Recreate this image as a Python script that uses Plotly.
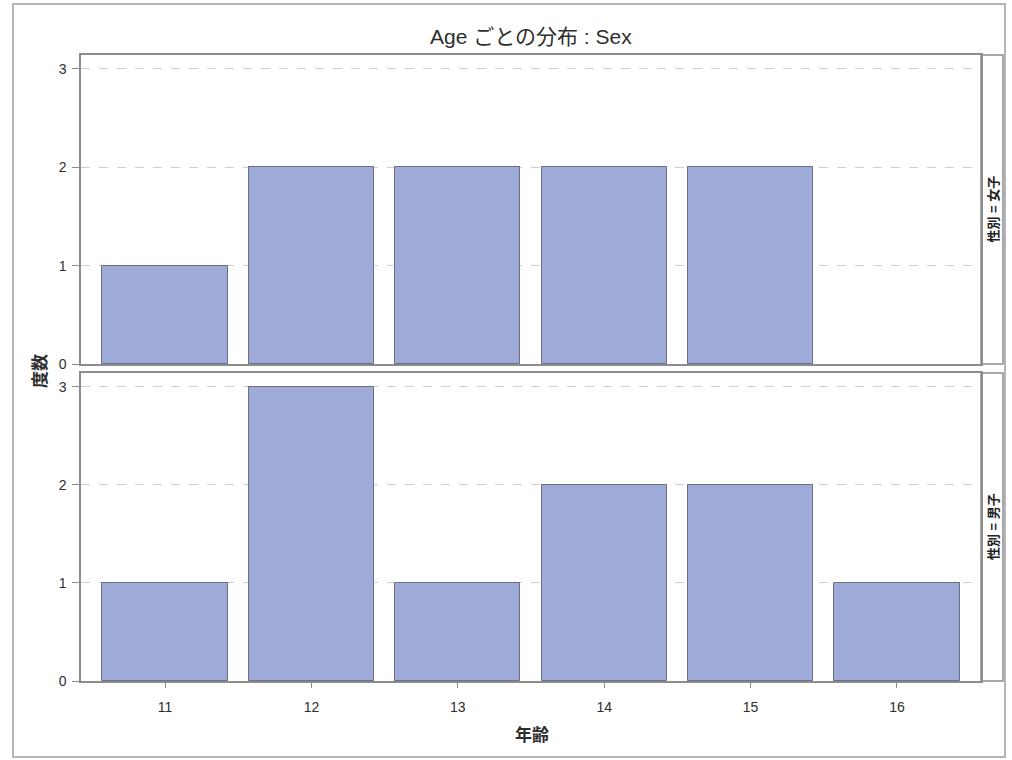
import plotly.graph_objects as go

ages = [11, 12, 13, 14, 15, 16]
female_counts = [1, 2, 2, 2, 2, None]
male_counts = [1, 3, 1, 2, 2, 1]
y_ticks = [0, 1, 2, 3]
title_text = "Age ごとの分布 : Sex"
strip_female = "性別 = 女子"
strip_male = "性別 = 男子"
x_title = "年齢"
y_title = "度数"

FONT = "Liberation Sans, Arial, Noto Sans CJK JP, sans-serif"
fill = "#9eabd9"
edge = "#6b6f86"
frame = "#8c8c8c"
txt = "#2e2e2e"

fig = go.Figure()
fig.add_trace(go.Bar(x=ages, y=female_counts, width=0.855, marker=dict(color=fill, line=dict(color=edge, width=1)),
                     xaxis="x2", yaxis="y2", showlegend=False))
fig.add_trace(go.Bar(x=ages, y=male_counts, width=0.855, marker=dict(color=fill, line=dict(color=edge, width=1)),
                     xaxis="x", yaxis="y", showlegend=False))

L, R, T, B = 81, 31, 55, 79
W, H = 1012, 760
ph = H - T - B
pw = W - L - R
bot_dom = [0, 308 / ph]
top_dom = [1 - 309 / ph, 1]

xr = [10.426, 16.574]
yr = [0, 3.142]

common_y = dict(range=yr, tickvals=y_ticks, showgrid=True, gridcolor="#cfcfcf", griddash="dash", gridwidth=1,
                zeroline=False, showline=True, mirror=True, linecolor=frame, linewidth=1.5,
                ticks="outside", ticklen=7, tickcolor=frame, ticklabelstandoff=3,
                tickfont=dict(family=FONT, size=14, color=txt), fixedrange=True)

fig.update_layout(
    width=W, height=H,
    margin=dict(l=L, r=R, t=T, b=B),
    paper_bgcolor="white", plot_bgcolor="white",
    bargap=0,
    font=dict(family=FONT, color=txt),
    xaxis=dict(range=xr, tickvals=ages, showgrid=False, zeroline=False, showline=True, mirror=True,
               linecolor=frame, linewidth=1.5, ticks="outside", ticklen=5, tickcolor=frame,
               ticklabelstandoff=7,
               tickfont=dict(family=FONT, size=14, color=txt), anchor="y"),
    xaxis2=dict(range=xr, tickvals=ages, showticklabels=False, showgrid=False, zeroline=False, showline=True,
                mirror=True, linecolor=frame, linewidth=1.5, ticks="", anchor="y2", matches="x"),
    yaxis=dict(domain=bot_dom, anchor="x", **common_y),
    yaxis2=dict(domain=top_dom, anchor="x2", **common_y),
)

# strip headers on the right
sx0 = 1.0
sx1 = 1 + 22 / pw
for dom, label in [(top_dom, strip_female), (bot_dom, strip_male)]:
    fig.add_shape(type="rect", xref="paper", yref="paper", x0=sx0, x1=sx1, y0=dom[0], y1=dom[1],
                  line=dict(color=frame, width=1.5), fillcolor="white", layer="below")
    fig.add_annotation(xref="paper", yref="paper", x=(sx0 + sx1) / 2 + 1 / pw, y=(dom[0] + dom[1]) / 2,
                       text="<b>" + label + "</b>", textangle=-90, showarrow=False,
                       font=dict(family=FONT, size=13, color="#222222"), xanchor="center", yanchor="middle")

# outer frame
fig.add_shape(type="rect", xref="paper", yref="paper",
              x0=(13 - L) / pw, x1=(1005 - L) / pw, y0=-(757 - (H - B)) / ph, y1=1 + (T - 4) / ph,
              line=dict(color="#b5b5b5", width=2), fillcolor="rgba(0,0,0,0)", layer="below")

# title
fig.add_annotation(xref="paper", yref="paper", x=(531 - L) / pw, y=1 + (T - 36) / ph, text=title_text,
                   showarrow=False, font=dict(family=FONT, size=21, color=txt), xanchor="center", yanchor="middle")
# axis titles
fig.add_annotation(xref="paper", yref="paper", x=(532 - L) / pw, y=-(735 - (H - B)) / ph, text="<b>" + x_title + "</b>",
                   showarrow=False, font=dict(family=FONT, size=17, color=txt), xanchor="center", yanchor="middle")
fig.add_annotation(xref="paper", yref="paper", x=(40 - L) / pw, y=1 - (371 - T) / ph, text="<b>" + y_title + "</b>",
                   textangle=-90, showarrow=False, font=dict(family=FONT, size=17, color=txt),
                   xanchor="center", yanchor="middle")

fig.write_html("out.html")
